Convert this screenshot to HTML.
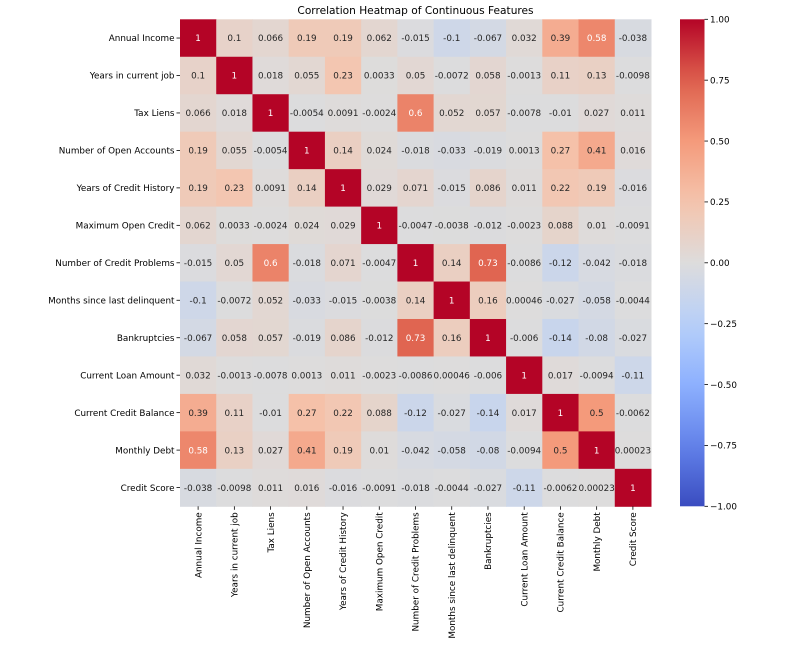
<!DOCTYPE html>
<html><head><meta charset="utf-8"><style>
body{margin:0;background:#fff;}
svg text{font-family:"DejaVu Sans","Liberation Sans",sans-serif;}
</style></head><body>
<svg id="chart" width="785" height="648" xmlns="http://www.w3.org/2000/svg">
<text x="415.5" y="14" font-size="10.6" text-anchor="middle" fill="#000">Correlation Heatmap of Continuous Features</text>
<g id="cells"></g><g id="ylabels"></g><g id="xlabels"></g>
<defs><linearGradient id="cbgrad" x1="0" y1="1" x2="0" y2="0"></linearGradient></defs>
<rect x="680" y="19.3" width="24.5" height="487" fill="url(#cbgrad)"/>
<g id="cbticks"></g>
</svg>
<script>
const labels=["Annual Income","Years in current job","Tax Liens","Number of Open Accounts","Years of Credit History","Maximum Open Credit","Number of Credit Problems","Months since last delinquent","Bankruptcies","Current Loan Amount","Current Credit Balance","Monthly Debt","Credit Score"];
const row0=[1,0.1,0.066,0.19,0.19,0.062,-0.015,-0.1,-0.067,0.032,0.39,0.58,-0.038];
const row1=[0.1,1,0.018,0.055,0.23,0.0033,0.05,-0.0072,0.058,-0.0013,0.11,0.13,-0.0098];
const row2=[0.066,0.018,1,-0.0054,0.0091,-0.0024,0.6,0.052,0.057,-0.0078,-0.01,0.027,0.011];
const row3=[0.19,0.055,-0.0054,1,0.14,0.024,-0.018,-0.033,-0.019,0.0013,0.27,0.41,0.016];
const row4=[0.19,0.23,0.0091,0.14,1,0.029,0.071,-0.015,0.086,0.011,0.22,0.19,-0.016];
const row5=[0.062,0.0033,-0.0024,0.024,0.029,1,-0.0047,-0.0038,-0.012,-0.0023,0.088,0.01,-0.0091];
const row6=[-0.015,0.05,0.6,-0.018,0.071,-0.0047,1,0.14,0.73,-0.0086,-0.12,-0.042,-0.018];
const row7=[-0.1,-0.0072,0.052,-0.033,-0.015,-0.0038,0.14,1,0.16,0.00046,-0.027,-0.058,-0.0044];
const row8=[-0.067,0.058,0.057,-0.019,0.086,-0.012,0.73,0.16,1,-0.006,-0.14,-0.08,-0.027];
const row9=[0.032,-0.0013,-0.0078,0.0013,0.011,-0.0023,-0.0086,0.00046,-0.006,1,0.017,-0.0094,-0.11];
const row10=[0.39,0.11,-0.01,0.27,0.22,0.088,-0.12,-0.027,-0.14,0.017,1,0.5,-0.0062];
const row11=[0.58,0.13,0.027,0.41,0.19,0.01,-0.042,-0.058,-0.08,-0.0094,0.5,1,0.00023];
const row12=[-0.038,-0.0098,0.011,0.016,-0.016,-0.0091,-0.018,-0.0044,-0.027,-0.11,-0.0062,0.00023,1];
const matrix=[row0,row1,row2,row3,row4,row5,row6,row7,row8,row9,row10,row11,row12];
const cbTicks=[1,0.75,0.5,0.25,0,-0.25,-0.5,-0.75,-1];

const NS="http://www.w3.org/2000/svg";
const X0=180,X1=651,Y0=19.3,Y1=506.3;
const n=labels.length, cw=(X1-X0)/n, ch=(Y1-Y0)/n;
const xPos=i=>X0+i*cw, yPos=i=>Y0+i*ch;
const cbY=v=>Y1-(v+1)/2*(Y1-Y0);
const FS=8.8;
const stops=[[58,76,192],[98,130,234],[141,176,254],[184,208,249],[221,220,220],[245,196,173],[244,154,123],[222,96,77],[180,4,38]];
function cmap(v){let t=(v+1)/2*(stops.length-1);t=Math.max(0,Math.min(stops.length-1,t));let i=Math.min(Math.floor(t),stops.length-2),f=t-i;
return stops[i].map((c,k)=>Math.round(c+(stops[i+1][k]-c)*f));}
function lum(c){const l=c.map(x=>{x/=255;return x<=0.03928?x/12.92:Math.pow((x+0.055)/1.055,2.4)});return 0.2126*l[0]+0.7152*l[1]+0.0722*l[2];}
function mk(tag,attrs,parent){const e=document.createElementNS(NS,tag);for(const k in attrs)e.setAttribute(k,attrs[k]);parent.appendChild(e);return e;}
const cells=document.getElementById('cells');
matrix.forEach((row,r)=>row.forEach((v,c)=>{
 const col=cmap(v);
 const rect=mk('rect',{x:xPos(c),y:yPos(r),width:cw+0.5,height:ch+0.5,fill:`rgb(${col})`},cells);
 
 
 const t=mk('text',{x:xPos(c)+cw/2,y:yPos(r)+ch/2+3.2,'font-size':FS,'text-anchor':'middle',fill:lum(col)>0.408?'#262626':'#fff'},cells);
 
 
 t.textContent=String(v);
}));
const yl=document.getElementById('ylabels'),xl=document.getElementById('xlabels');
labels.forEach((lab,i)=>{
 const cy=yPos(i)+ch/2;
 mk('line',{x1:X0-3.5,x2:X0,y1:cy,y2:cy,stroke:'#000','stroke-width':0.8},yl);
 const t=mk('text',{x:X0-5.5,y:cy+3.2,'font-size':FS,'text-anchor':'end',fill:'#000'},yl);
 
 
 t.textContent=lab;
 const cx=xPos(i)+cw/2;
 mk('line',{x1:cx,x2:cx,y1:Y1,y2:Y1+3.5,stroke:'#000','stroke-width':0.8},xl);
 const tx=mk('text',{x:0,y:0,'font-size':FS,'text-anchor':'end',fill:'#000',transform:`translate(${cx+3.2},${Y1+6}) rotate(-90)`},xl);
 
 
 tx.textContent=lab;
});
const g=document.getElementById('cbgrad');
for(let k=0;k<=20;k++){const v=-1+k*0.1;mk('stop',{offset:(k/20),'stop-color':`rgb(${cmap(v)})`},g);}
const cbt=document.getElementById('cbticks');
cbTicks.forEach(v=>{
 const y=cbY(v);
 mk('line',{x1:704.5,x2:708,y1:y,y2:y,stroke:'#000','stroke-width':0.8},cbt);
 const t=mk('text',{x:710,y:y+3.2,'font-size':FS,fill:'#000'},cbt);
 
 
 t.textContent=(v<0?'\u2212':'')+Math.abs(v).toFixed(2);
});
</script>
</body></html>
